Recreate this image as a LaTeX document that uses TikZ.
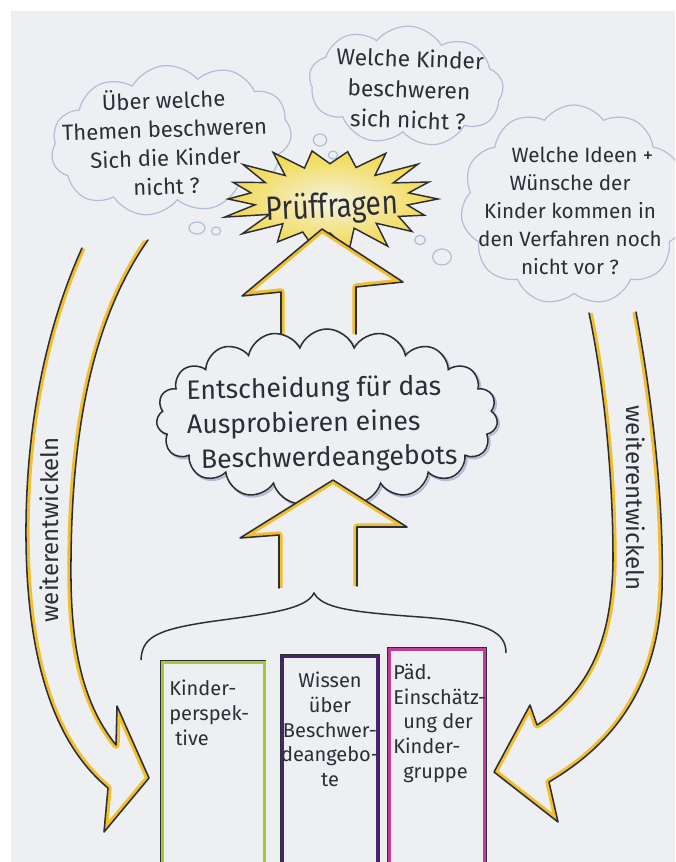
\documentclass[tikz,border=0pt]{standalone}
\usepackage{fontspec}
\usepackage{graphicx}
\setmainfont{Fira Sans}
\usetikzlibrary{shapes.symbols}
\definecolor{paper}{HTML}{EEEFF3}
\definecolor{ink}{HTML}{2D2E35}
\definecolor{marker}{HTML}{F2BF2C}
\definecolor{bubcol}{HTML}{B3BDD6}
\definecolor{kgreen}{HTML}{A8C838}
\definecolor{kpurple}{HTML}{4A2370}
\definecolor{kmagenta}{HTML}{C13C96}
\definecolor{starin}{HTML}{F4F2E2}
\definecolor{starout}{HTML}{F2D94A}
\newcommand{\markerpath}[1]{%
  \fill[paper] #1 -- cycle;
  \begin{scope}
    \clip #1 -- cycle;
    \draw[marker, line width=5.5pt, line join=round] #1;
  \end{scope}
  \draw[ink, line width=1.15pt, line join=round, line cap=round] #1;
}
\begin{document}
\begin{tikzpicture}[x=0.75pt, y=-0.75pt,
  hand/.style={font=#1, align=center, inner sep=0pt, text=ink, transform shape},
  bubbleshape/.style={cloud, cloud ignores aspect, draw=bubcol, line width=0.9pt, fill=paper},
  tailc/.style={draw=bubcol, line width=0.9pt, fill=paper},
  kasten/.style={rectangle, draw=ink, line width=1pt, fill=paper, anchor=north west, minimum height=200pt, inner sep=0pt},
]
\useasboundingbox (0,0) rectangle (675,862);
\clip (0,0) rectangle (675,862);
\fill[white] (0,0) rectangle (675,862);
\fill[paper] (11,11) rectangle (675,862);

% thought bubbles
\node[bubbleshape, cloud puffs=11, cloud puff arc=110, minimum width=181pt, minimum height=112pt, rotate=6] (bL) at (171,140) {};
\node[bubbleshape, cloud puffs=9, cloud puff arc=110, minimum width=146pt, minimum height=90pt, rotate=-4] (bM) at (406,86) {};
\node[bubbleshape, cloud puffs=11, cloud puff arc=110, minimum width=170pt, minimum height=150pt] (bR) at (574,205) {};

\draw[tailc] (197,228) ellipse [x radius=6pt, y radius=4.5pt];
\draw[tailc] (216,231) ellipse [x radius=3.5pt, y radius=3pt];
\draw[tailc] (320,140) ellipse [x radius=5pt, y radius=4.5pt];
\draw[tailc] (333,155) ellipse [x radius=3.5pt, y radius=3pt];
\draw[tailc] (442,257) ellipse [x radius=7pt, y radius=6pt];
\draw[tailc] (420,240) ellipse [x radius=4pt, y radius=3.5pt];

\node[hand={\fontsize{16.5}{21.5}\selectfont}, rotate=2] (tL) at (165,142) {Über welche\\Themen beschweren\\Sich die Kinder\\nicht ?};
\node[hand={\fontsize{17}{23}\selectfont}, rotate=-2] (tM) at (409,89) {Welche Kinder\\beschweren\\sich nicht ?};
\node[hand={\fontsize{15.5}{21}\selectfont}] (tR) at (570,211) {\hspace*{1.2em}Welche Ideen +\\Wünsche der\\Kinder kommen in\\den Verfahren noch\\nicht vor ?};

% starburst
\shadedraw[inner color=starin, outer color=starout, draw=ink, line width=1.1pt, line join=miter]
  plot[samples at={0,1,...,35}, variable=\k]
  ({330+(108-33*mod(\k,2))*(1+0.07*sin(\k*137))*cos(\k*10)}, {199+(51-18*mod(\k,2))*(1+0.07*sin(\k*137))*sin(\k*10)}) -- cycle;
\node[hand={\fontsize{21}{24}\selectfont}, rotate=3, yscale=1.2] (pf) at (332,208) {Prüffragen};

% upper arrow
\markerpath{(281,336) -- (281,292) -- (242,296) -- (322,229) -- (403,282) -- (356,287) -- (356,334)}

% decision cloud
\node[cloud, cloud ignores aspect, cloud puffs=19, cloud puff arc=140, draw=ink, line width=1.15pt, fill=paper,
  minimum width=256pt, minimum height=132pt,
  preaction={draw=bubcol, line width=1.6pt, transform canvas={xshift=1.3pt, yshift=-1.3pt}}] (cE) at (327,417) {};
\node[hand={\fontsize{20}{26}\selectfont}, align=left, rotate=1] (tE) at (322,424) {Entscheidung für das\\Ausprobieren eines\\\hspace*{0.5em}Beschwerdeangebots};

% lower arrow
\markerpath{(279,588) -- (279,535) -- (240,538) -- (333,480) -- (407,527) -- (357,527) -- (357,586)}

% brace
\draw[ink, line width=1.1pt] (141,660) .. controls (142,638) and (155,630) .. (208,622) .. controls (265,614) and (306,610) .. (314,593) .. controls (322,608) and (350,612) .. (420,617) .. controls (488,622) and (506,632) .. (506,653);

% boxes
\node[kasten, minimum width=78.75pt] (b1) at (160,660) {};
\draw[kgreen, line width=2.2pt] ([shift={(1.6pt,-1.6pt)}]b1.north west) rectangle ([shift={(-1.6pt,1.6pt)}]b1.south east);
\node[kasten, minimum width=74pt] (b2) at (280,654) {};
\draw[kpurple, line width=2.6pt] ([shift={(1.7pt,-1.7pt)}]b2.north west) rectangle ([shift={(-1.7pt,1.7pt)}]b2.south east);
\node[kasten, minimum width=74pt] (b3) at (387,647) {};
\draw[kmagenta, line width=2.4pt] ([shift={(1.6pt,-1.6pt)}]b3.north west) rectangle ([shift={(-1.6pt,1.6pt)}]b3.south east);

\node[hand={\fontsize{15}{18.5}\selectfont}, align=left, anchor=north west] (k1) at (169,680) {Kinder-\\perspek-\\\hspace*{0.3em}tive};
\node[hand={\fontsize{15}{18.5}\selectfont}, anchor=north] (k2) at (330,672) {Wissen\\über\\Beschwer-\\deangebo-\\te};
\node[hand={\fontsize{15}{18.5}\selectfont}, align=left, anchor=north west] (k3) at (393,664) {Päd.\\Einschätz-\\\hspace*{0.5em}ung der\\Kinder-\\\hspace*{0.5em}gruppe};

% curved side arrows
\markerpath{(82,248) .. controls (45,330) and (25,430) .. (26,540) .. controls (27,650) and (50,740) .. (108,788) -- (104,832) -- (149,778) -- (117,706) -- (116,745) .. controls (80,700) and (70,640) .. (71,560) .. controls (72,430) and (92,320) .. (148,240)}
\markerpath{(636,312) .. controls (656,420) and (664,520) .. (662,590) .. controls (658,680) and (620,740) .. (549,782) -- (558,822) -- (494,772) -- (530,705) -- (537,725) .. controls (590,690) and (612,640) .. (613,560) .. controls (613,470) and (603,380) .. (589,313)}

\node[hand={\fontsize{18}{20}\selectfont}, rotate=90] (w1) at (49,530) {weiterentwickeln};
\node[hand={\fontsize{18}{20}\selectfont}, rotate=-90] (w2) at (636,498) {weiterentwickeln};
\end{tikzpicture}
\end{document}
